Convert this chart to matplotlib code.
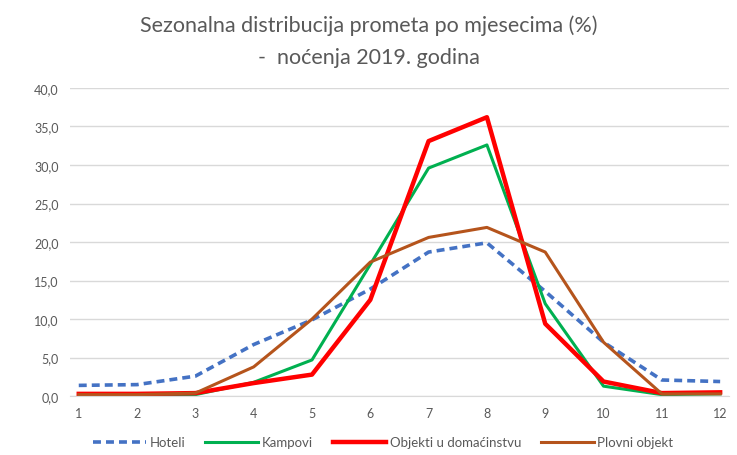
import matplotlib.pyplot as plt
import matplotlib.ticker as mtick

plt.rcParams['font.family'] = ['Lato', 'DejaVu Sans']

months = list(range(1, 13))
hoteli = [1.4, 1.5, 2.6, 6.7, 9.9, 13.9, 18.7, 19.9, 13.6, 7.0, 2.1, 1.9]
kampovi = [0.2, 0.2, 0.2, 1.8, 4.7, 17.1, 29.6, 32.6, 12.0, 1.3, 0.2, 0.3]
objekti = [0.3, 0.3, 0.4, 1.7, 2.8, 12.5, 33.1, 36.2, 9.4, 1.9, 0.4, 0.5]
plovni = [0.2, 0.2, 0.4, 3.8, 10.0, 17.4, 20.6, 21.9, 18.7, 7.0, 0.3, 0.3]

fig = plt.figure(figsize=(7.37, 4.56), dpi=100)
ax = fig.add_axes([0.095, 0.129, 0.894, 0.676])

ax.plot(months, hoteli, color='#4472C4', lw=2.6, ls=(0, (2.2, 1.4)), label='Hoteli')
ax.plot(months, kampovi, color='#00B050', lw=2.2, label='Kampovi')
ax.plot(months, objekti, color='#FF0000', lw=3.2, label='Objekti u domaćinstvu')
ax.plot(months, plovni, color='#B5541C', lw=2.2, label='Plovni objekt')

ax.set_xlim(0.85, 12.15)
ax.set_ylim(0, 40)
ax.set_xticks(months)
ax.set_yticks(range(0, 41, 5))
ax.yaxis.set_major_formatter(mtick.FuncFormatter(lambda v, p: f'{v:.1f}'.replace('.', ',')))
ax.grid(axis='y', color='#D9D9D9', lw=1)
ax.set_axisbelow(True)
for s in ['top', 'right', 'left']:
    ax.spines[s].set_visible(False)
ax.spines['bottom'].set_color('#D9D9D9')
ax.tick_params(length=0, labelsize=9, colors='#595959', pad=8)

fig.text(0.5, 0.943, 'Sezonalna distribucija prometa po mjesecima (%)', ha='center', va='center',
         fontsize=15.5, color='#595959')
fig.text(0.5, 0.873, '-  noćenja 2019. godina', ha='center', va='center', fontsize=15.5, color='#595959')

fig.legend(loc='center', bbox_to_anchor=(0.52, 0.028), ncol=4, frameon=False, fontsize=9.5,
           labelcolor='#595959', handlelength=4, columnspacing=1.5, handletextpad=0.3)

fig.savefig('out.png', dpi=100)
